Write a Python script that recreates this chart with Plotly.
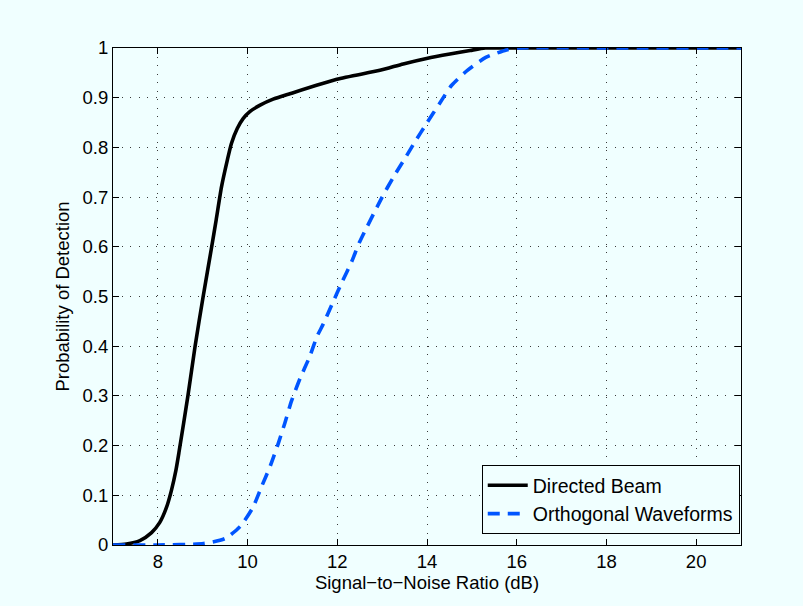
import plotly.graph_objects as go

# Signal-to-noise ratio (dB) and detection probability for each scheme
snr_directed = [7.0, 7.3, 7.6, 7.86, 8.04, 8.19, 8.30, 8.40, 8.47, 8.67, 8.83,
                9.01, 9.2, 9.30, 9.42, 9.55, 9.64, 9.77, 9.90, 10.05, 10.28,
                10.57, 10.91, 11.99, 12.95, 13.47, 13.99, 14.51, 14.96, 15.3,
                16.0, 18.0, 21.0]
pd_directed = [0.0, 0.002, 0.009, 0.025, 0.045, 0.075, 0.109, 0.149, 0.186, 0.3,
               0.4, 0.5, 0.6, 0.654, 0.721, 0.775, 0.808, 0.838, 0.858, 0.872,
               0.885, 0.897, 0.907, 0.937, 0.955, 0.968, 0.979, 0.988, 0.995,
               1.0, 1.0, 1.0, 1.0]

snr_orthogonal = [7.0, 8.0, 9.02, 9.50, 9.83, 10.11, 10.31, 10.51, 10.68, 10.83,
                  10.98, 11.17, 11.38, 11.55, 11.69, 11.9, 12.10, 12.32, 12.5,
                  13.0, 13.25, 13.51, 13.73, 13.99, 14.27, 14.55, 14.90, 15.31,
                  15.77, 16.0, 18.0, 21.0]
pd_orthogonal = [0.0, 0.0, 0.003, 0.013, 0.037, 0.074, 0.117, 0.16, 0.203, 0.245,
                 0.29, 0.335, 0.378, 0.42, 0.445, 0.488, 0.528, 0.57, 0.61,
                 0.7, 0.74, 0.778, 0.811, 0.848, 0.887, 0.925, 0.955, 0.981,
                 0.996, 1.0, 1.0, 1.0]

x_ticks = [8, 10, 12, 14, 16, 18, 20]
y_ticks = [0, 0.1, 0.2, 0.3, 0.4, 0.5, 0.6, 0.7, 0.8, 0.9, 1]
y_tick_text = ["0", "0.1", "0.2", "0.3", "0.4", "0.5", "0.6", "0.7", "0.8", "0.9", "1"]

bg = "#F0FFFF"
font = "Liberation Sans, Arial, Helvetica, sans-serif"
fsize = 18.5

fig = go.Figure()
fig.add_trace(go.Scatter(
    x=snr_directed, y=pd_directed, mode="lines", name="Directed Beam",
    line=dict(color="black", width=3.6, shape="spline", smoothing=0.6),
))
fig.add_trace(go.Scatter(
    x=snr_orthogonal, y=pd_orthogonal, mode="lines", name="Orthogonal Waveforms",
    line=dict(color="#0055FF", width=3.6, dash="12px,8px", shape="spline", smoothing=0.6),
))

axis_common = dict(
    showline=True, linecolor="black", linewidth=1, mirror="ticks",
    ticks="inside", ticklen=6, tickcolor="black",
    showgrid=True, gridcolor="#3a3a3a", griddash="1px,7.5px", gridwidth=1,
    zeroline=False, tickfont=dict(size=fsize, color="black", family=font),
)

fig.update_xaxes(range=[7, 21], tickvals=x_ticks,
                 title=dict(text="Signal\u2212to\u2212Noise Ratio (dB)",
                            font=dict(size=fsize, color="black", family=font), standoff=4),
                 **axis_common)
fig.update_yaxes(range=[0, 1], tickvals=y_ticks, ticktext=y_tick_text,
                 title=dict(text="Probability of Detection",
                            font=dict(size=fsize, color="black", family=font), standoff=8),
                 **axis_common)

fig.update_layout(
    width=803, height=606,
    margin=dict(l=113, r=62, t=48, b=61),
    paper_bgcolor=bg, plot_bgcolor=bg,
    font=dict(family=font, size=fsize, color="black"),
    legend=dict(
        x=0.998, y=0.022, xanchor="right", yanchor="bottom",
        bgcolor=bg, bordercolor="black", borderwidth=1,
        font=dict(size=19.5, color="black", family=font),
        tracegroupgap=0, itemwidth=40,
    ),
)

fig.write_html("out.html")
